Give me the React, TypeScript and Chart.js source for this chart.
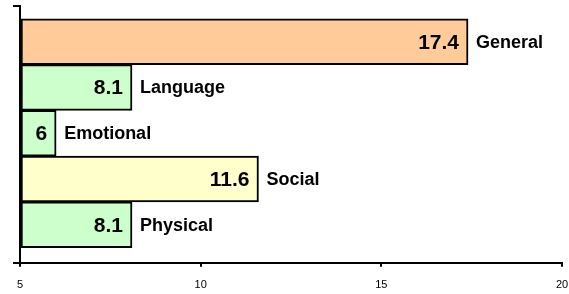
import React, { useEffect, useRef } from "react";
import { Chart, registerables } from "chart.js";

Chart.register(...registerables);

const categories = ["General", "Language", "Emotional", "Social", "Physical"];
const values = [17.4, 8.1, 6, 11.6, 8.1];
const barColors = ["#FFCC99", "#CCFFCC", "#CCFFCC", "#FFFFCC", "#CCFFCC"];
const xTicks = [5, 10, 15, 20];
const FONT = "'Liberation Sans', Arial, sans-serif";

const labelPlugin = {
  id: "barLabels",
  afterDatasetsDraw(chart: any) {
    const ctx = chart.ctx;
    const meta = chart.getDatasetMeta(0);
    ctx.save();
    ctx.fillStyle = "#000";
    ctx.textBaseline = "middle";
    meta.data.forEach((bar: any, i: number) => {
      const { x, y } = bar.getProps(["x", "y"], true);
      ctx.font = `bold 21px ${FONT}`;
      ctx.textAlign = "right";
      ctx.fillText(String(values[i]), x - 9, y + 1);
      ctx.font = `bold 18px ${FONT}`;
      ctx.textAlign = "left";
      ctx.fillText(categories[i], x + 8, y + 1);
    });
    ctx.restore();
  },
};

export default function App() {
  const ref = useRef<HTMLCanvasElement>(null);
  useEffect(() => {
    if (!ref.current) return;
    const chart = new Chart(ref.current, {
      type: "bar",
      data: {
        labels: categories,
        datasets: [
          {
            data: values.map((v, i) => ({ x: v, y: i })),
            backgroundColor: barColors,
            borderColor: "#000",
            borderWidth: 2,
            borderSkipped: false,
            barPercentage: 1,
            categoryPercentage: 1,
            base: 5,
          } as any,
        ],
      },
      options: {
        indexAxis: "y",
        animation: false,
        responsive: false,
        devicePixelRatio: 1,
        layout: { padding: { left: 13, top: 6, right: 7, bottom: -10 } },
        plugins: { legend: { display: false }, tooltip: { enabled: false } },
        scales: {
          x: {
            type: "linear",
            min: 5,
            max: 20,
            offset: false,
            afterBuildTicks: (s: any) => {
              s.ticks = xTicks.map((v) => ({ value: v }));
            },
            afterFit: (s: any) => {
              s.paddingRight = 0;
              s.paddingLeft = 0;
            },
            ticks: {
              color: "#000",
              font: { family: FONT, size: 11 },
              padding: 12,
              maxRotation: 0,
            },
            grid: {
              offset: false,
              drawOnChartArea: false,
              drawTicks: true,
              tickLength: 4,
              color: "#000",
              lineWidth: 2,
            },
            border: { color: "#000", width: 2 },
          },
          y: {
            type: "linear",
            reverse: true,
            min: -0.78,
            max: 4.83,
            offset: false,
            afterBuildTicks: (s: any) => {
              s.ticks = [{ value: -0.78 }, { value: 4.83 }];
            },
            ticks: { display: false },
            grid: {
              offset: false,
              drawOnChartArea: false,
              drawTicks: true,
              tickLength: 7,
              color: "#000",
              lineWidth: 2,
            },
            border: { color: "#000", width: 2 },
          },
        },
      },
      plugins: [labelPlugin],
    });
    return () => chart.destroy();
  }, []);
  return (
    <div style={{ position: "absolute", left: 0, top: 0, width: 569, height: 294 }}>
      <canvas ref={ref} width={569} height={294} />
    </div>
  );
}
